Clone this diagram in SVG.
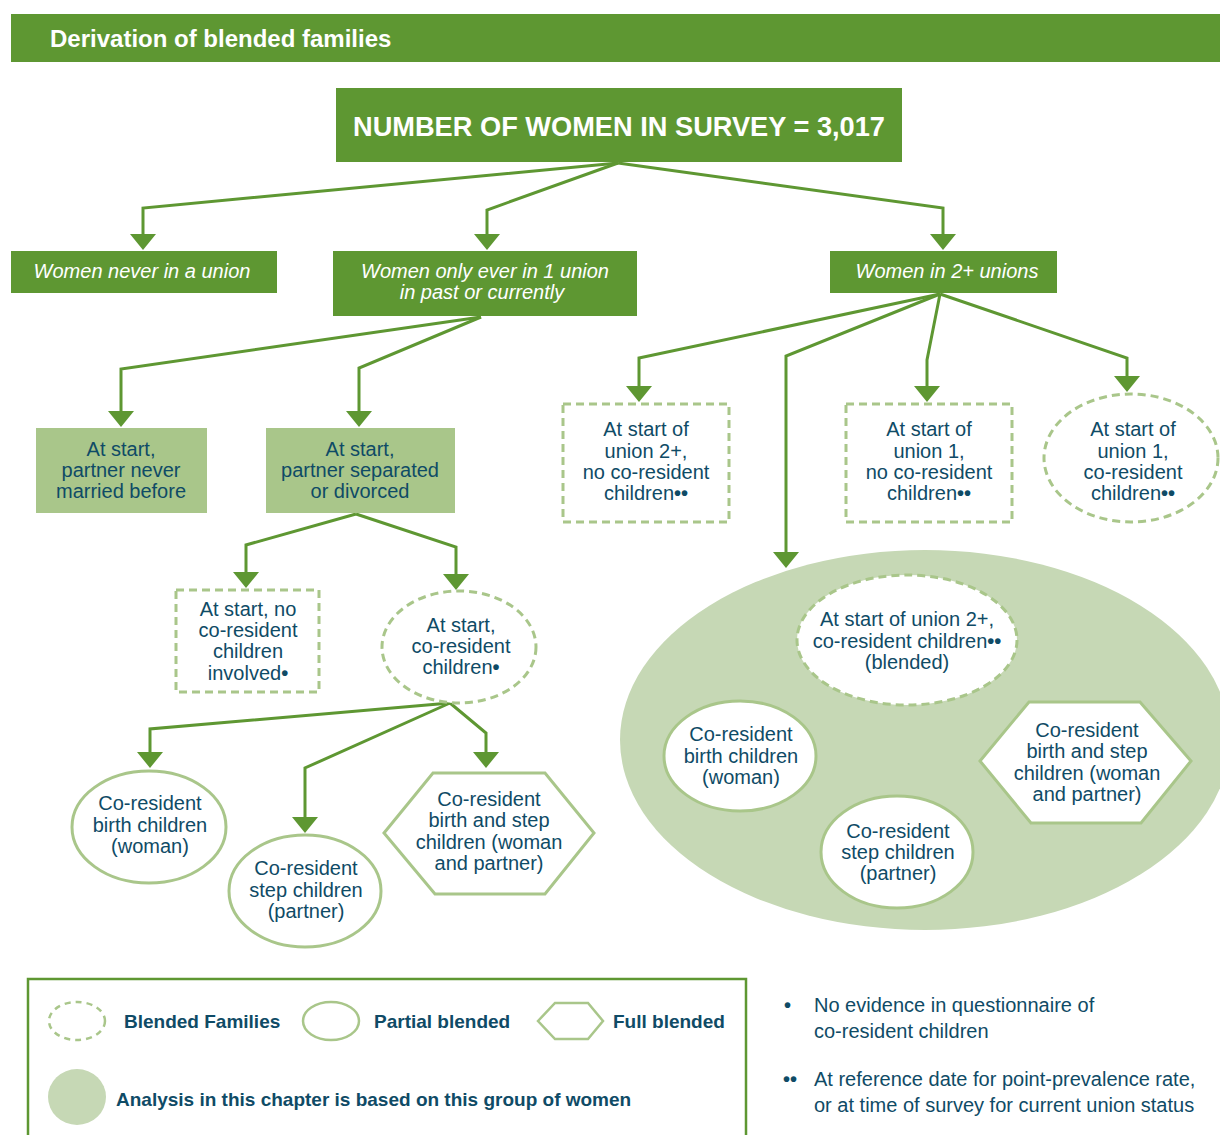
<svg xmlns="http://www.w3.org/2000/svg" width="1220" height="1135" viewBox="0 0 1220 1135">
  <style>
    text { font-family: "Liberation Sans", Arial, sans-serif; }
    .bar { fill: #5e9732; }
    .pale { fill: #a9c68a; }
    .ttl { font-size: 24px; font-weight: bold; fill: #ffffff; }
    .big { font-size: 28px; font-weight: bold; fill: #ffffff; }
    .it { font-size: 20px; font-style: italic; fill: #ffffff; text-anchor: middle; }
    .lbl { font-size: 20px; fill: #0f4b66; text-anchor: middle; }
    .key { font-size: 19px; font-weight: bold; fill: #0f4b66; }
    .note { font-size: 20px; fill: #0f4b66; }
    .dot { font-weight: bold; }
    .dash { fill: #ffffff; stroke: #a9c68a; stroke-width: 3; stroke-dasharray: 8 5; }
    .solid { fill: #ffffff; stroke: #a9c68a; stroke-width: 3; }
    .conn { fill: none; stroke: #5e9732; stroke-width: 3; marker-end: url(#arr); }
  </style>
  <defs>
    <marker id="arr" markerUnits="userSpaceOnUse" markerWidth="16" markerHeight="26" viewBox="0 0 16 26" refX="0" refY="13" orient="auto">
      <path d="M0,0 L16,13 L0,26 Z" fill="#5e9732"/>
    </marker>
  </defs>

  <!-- title bar -->
  <g id="header">
    <rect class="bar" x="11" y="14" width="1209" height="48"/>
    <text class="ttl" x="50" y="47">Derivation of blended families</text>
  </g>

  <!-- group analysed in the chapter -->
  <g id="analysis-group">
    <ellipse cx="925" cy="740" rx="305" ry="190" fill="#c6d8b5"/>
  </g>

  <!-- connectors -->
  <g id="connectors">
    <path class="conn" d="M618,163 L143,208 L143,234"/>
    <path class="conn" d="M618,163 L487,210 L487,234"/>
    <path class="conn" d="M618,163 L943,208 L943,234"/>
    <path class="conn" d="M481,317 L121,369 L121,411"/>
    <path class="conn" d="M481,317 L359,368 L359,411"/>
    <path class="conn" d="M356,514 L246,545 L246,572"/>
    <path class="conn" d="M356,514 L456,547 L456,574"/>
    <path class="conn" d="M450,703 L150,729 L150,752"/>
    <path class="conn" d="M450,703 L305,768 L305,817"/>
    <path class="conn" d="M450,703 L486,733 L486,752"/>
    <path class="conn" d="M940,294 L639,358 L639,386"/>
    <path class="conn" d="M940,294 L786,356 L786,552"/>
    <path class="conn" d="M940,294 L927,360 L927,386"/>
    <path class="conn" d="M940,294 L1127,358 L1127,376"/>
  </g>

  <g id="survey">
    <rect class="bar" x="336" y="88" width="566" height="74"/>
    <text class="big" x="353" y="136" textLength="532" lengthAdjust="spacingAndGlyphs">NUMBER OF WOMEN IN SURVEY = 3,017</text>
  </g>

  <g id="never-union">
    <rect class="bar" x="11" y="251" width="266" height="42"/>
    <text class="it" x="142" y="278">Women never in a union</text>
  </g>

  <g id="one-union">
    <rect class="bar" x="333" y="251" width="304" height="65"/>
    <text class="it" x="485" y="278">Women only ever in 1 union</text>
    <text class="it" x="482" y="299">in past or currently</text>
  </g>

  <g id="two-plus-unions">
    <rect class="bar" x="830" y="251" width="227" height="42"/>
    <text class="it" x="947" y="278">Women in 2+ unions</text>
  </g>

  <g id="partner-never-married">
    <rect class="pale" x="36" y="428" width="171" height="85"/>
    <text class="lbl" x="121" y="456">At start,</text>
    <text class="lbl" x="121" y="477">partner never</text>
    <text class="lbl" x="121" y="498">married before</text>
  </g>

  <g id="partner-separated">
    <rect class="pale" x="266" y="428" width="189" height="85"/>
    <text class="lbl" x="360" y="456">At start,</text>
    <text class="lbl" x="360" y="477">partner separated</text>
    <text class="lbl" x="360" y="498">or divorced</text>
  </g>

  <g id="no-children-involved">
    <rect class="dash" x="176" y="590" width="143" height="102"/>
    <text class="lbl" x="248" y="616">At start, no</text>
    <text class="lbl" x="248" y="637">co-resident</text>
    <text class="lbl" x="248" y="658">children</text>
    <text class="lbl" x="248" y="680">involved<tspan class="dot">•</tspan></text>
  </g>

  <g id="children-at-start">
    <ellipse class="dash" cx="459" cy="647" rx="77" ry="56"/>
    <text class="lbl" x="461" y="632">At start,</text>
    <text class="lbl" x="461" y="653">co-resident</text>
    <text class="lbl" x="461" y="674">children<tspan class="dot">•</tspan></text>
  </g>

  <g id="birth-children-1">
    <ellipse class="solid" cx="149" cy="827" rx="77" ry="56"/>
    <text class="lbl" x="150" y="810">Co-resident</text>
    <text class="lbl" x="150" y="832">birth children</text>
    <text class="lbl" x="150" y="853">(woman)</text>
  </g>

  <g id="step-children-1">
    <ellipse class="solid" cx="305" cy="891" rx="76" ry="56"/>
    <text class="lbl" x="306" y="875">Co-resident</text>
    <text class="lbl" x="306" y="897">step children</text>
    <text class="lbl" x="306" y="918">(partner)</text>
  </g>

  <g id="birth-and-step-1">
    <polygon class="solid" points="384,833 433,773 545,773 594,833 545,894 435,894"/>
    <text class="lbl" x="489" y="806">Co-resident</text>
    <text class="lbl" x="489" y="827">birth and step</text>
    <text class="lbl" x="489" y="849">children (woman</text>
    <text class="lbl" x="489" y="870">and partner)</text>
  </g>

  <g id="union2-no-children">
    <rect class="dash" x="563" y="404" width="166" height="118"/>
    <text class="lbl" x="646" y="436">At start of</text>
    <text class="lbl" x="646" y="458">union 2+,</text>
    <text class="lbl" x="646" y="479">no co-resident</text>
    <text class="lbl" x="646" y="500">children<tspan class="dot">••</tspan></text>
  </g>

  <g id="union1-no-children">
    <rect class="dash" x="846" y="404" width="166" height="118"/>
    <text class="lbl" x="929" y="436">At start of</text>
    <text class="lbl" x="929" y="458">union 1,</text>
    <text class="lbl" x="929" y="479">no co-resident</text>
    <text class="lbl" x="929" y="500">children<tspan class="dot">••</tspan></text>
  </g>

  <g id="union1-children">
    <ellipse class="dash" cx="1131" cy="458" rx="87" ry="64"/>
    <text class="lbl" x="1133" y="436">At start of</text>
    <text class="lbl" x="1133" y="458">union 1,</text>
    <text class="lbl" x="1133" y="479">co-resident</text>
    <text class="lbl" x="1133" y="500">children<tspan class="dot">••</tspan></text>
  </g>

  <g id="union2-blended">
    <ellipse class="dash" cx="907" cy="640" rx="110" ry="65"/>
    <text class="lbl" x="907" y="626">At start of union 2+,</text>
    <text class="lbl" x="907" y="648">co-resident children<tspan class="dot">••</tspan></text>
    <text class="lbl" x="907" y="669">(blended)</text>
  </g>

  <g id="birth-children-2">
    <ellipse class="solid" cx="740" cy="756" rx="76" ry="55"/>
    <text class="lbl" x="741" y="741">Co-resident</text>
    <text class="lbl" x="741" y="763">birth children</text>
    <text class="lbl" x="741" y="784">(woman)</text>
  </g>

  <g id="step-children-2">
    <ellipse class="solid" cx="897" cy="852" rx="76" ry="56"/>
    <text class="lbl" x="898" y="838">Co-resident</text>
    <text class="lbl" x="898" y="859">step children</text>
    <text class="lbl" x="898" y="880">(partner)</text>
  </g>

  <g id="birth-and-step-2">
    <polygon class="solid" points="980,761 1029,702 1140,702 1191,761 1141,823 1031,823"/>
    <text class="lbl" x="1087" y="737">Co-resident</text>
    <text class="lbl" x="1087" y="758">birth and step</text>
    <text class="lbl" x="1087" y="780">children (woman</text>
    <text class="lbl" x="1087" y="801">and partner)</text>
  </g>

  <!-- key -->
  <g id="legend">
    <rect x="28" y="979" width="718" height="170" fill="none" stroke="#5e9732" stroke-width="2.5"/>
    <ellipse cx="77" cy="1021" rx="28" ry="19" fill="none" stroke="#a9c68a" stroke-width="2.5" stroke-dasharray="6 5"/>
    <text class="key" x="124" y="1028">Blended Families</text>
    <ellipse cx="331" cy="1021" rx="28" ry="19" fill="none" stroke="#a9c68a" stroke-width="2.5"/>
    <text class="key" x="374" y="1028">Partial blended</text>
    <polygon points="538,1021 555,1003 588,1003 603,1021 588,1039 555,1039" fill="none" stroke="#a9c68a" stroke-width="2.5"/>
    <text class="key" x="613" y="1028">Full blended</text>
    <ellipse cx="77" cy="1097" rx="29" ry="28" fill="#c6d8b5"/>
    <text class="key" x="116" y="1106">Analysis in this chapter is based on this group of women</text>
  </g>

  <!-- footnotes -->
  <g id="notes">
    <text class="note dot" x="784" y="1012">•</text>
    <text class="note" x="814" y="1012">No evidence in questionnaire of</text>
    <text class="note" x="814" y="1038">co-resident children</text>
    <text class="note dot" x="783" y="1086">••</text>
    <text class="note" x="814" y="1086">At reference date for point-prevalence rate,</text>
    <text class="note" x="814" y="1112">or at time of survey for current union status</text>
  </g>
</svg>
